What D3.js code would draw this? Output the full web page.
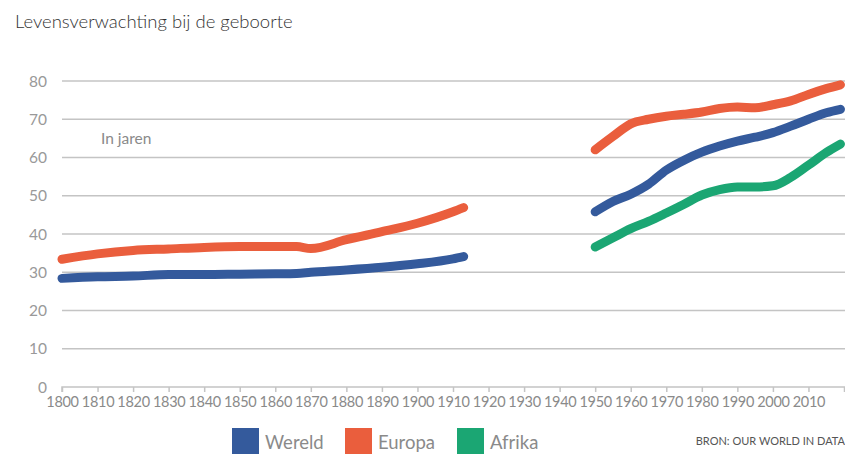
<!DOCTYPE html>
<html>
<head>
<meta charset="utf-8">
<script src="https://cdn.jsdelivr.net/npm/d3@7"></script>
<style>
  body { margin: 0; background: #fff; }
  svg { display: block; font-family: Lato, "Open Sans", sans-serif; }
</style>
</head>
<body>
<svg id="chart" width="845" height="454"></svg>
<script>
// ---- data ----
const yearsEarly = [1800,1810,1820,1830,1840,1850,1860,1866,1870,1880,1890,1900,1910,1913];
const wereldEarly = [28.4,28.8,29.0,29.4,29.4,29.5,29.6,29.7,30.0,30.6,31.3,32.2,33.5,34.1];
const europaEarly = [33.4,34.8,35.7,36.1,36.5,36.7,36.7,36.7,36.2,38.5,40.6,42.8,45.8,46.9];

const yearsLate = [1950,1955,1960,1965,1970,1975,1980,1985,1990,1995,2000,2005,2010,2015,2019];
const wereldLate = [45.8,48.5,50.4,53.0,56.7,59.3,61.4,63.0,64.3,65.3,66.5,68.2,70.0,71.7,72.6];
const europaLate = [62.0,65.5,68.8,70.0,70.8,71.3,71.9,72.8,73.2,73.0,73.8,74.8,76.5,78.0,79.0];
const afrikaLate = [36.6,39.0,41.4,43.3,45.5,47.8,50.2,51.6,52.3,52.3,52.6,54.8,58.0,61.3,63.5];

const yTicks = [0,10,20,30,40,50,60,70,80];
const xTicks = d3.range(1800, 2021, 10);
const xLabels = d3.range(1800, 2011, 10);

const seriesNames = ["Wereld","Europa","Afrika"];
const colors = {Wereld:"#345a9c", Europa:"#ea5e3d", Afrika:"#1ba673"};

// ---- layout ----
const svg = d3.select("#chart");
const x = d3.scaleLinear().domain([1800, 2020]).range([62, 844]);
const y = d3.scaleLinear().domain([0, 80]).range([387, 81]);

// title
svg.append("text").attr("x", 15).attr("y", 28)
  .attr("font-size", 18.5).attr("font-weight", 300).attr("fill", "#333")
  .text("Levensverwachting bij de geboorte");

// gridlines
svg.append("g").selectAll("line").data(yTicks.filter(d => d > 0)).join("line")
  .attr("x1", 62).attr("x2", 845)
  .attr("y1", d => y(d)).attr("y2", d => y(d))
  .attr("stroke", "#c4c4c4").attr("stroke-width", 1.5);

// y labels
svg.append("g").selectAll("text").data(yTicks).join("text")
  .attr("x", 47).attr("y", d => y(d)).attr("dy", "0.36em")
  .attr("text-anchor", "end").attr("font-size", 15.5).attr("fill", "#999")
  .text(d => d);

// x axis
const xAxis = d3.axisBottom(x).tickValues(xTicks).tickSize(5)
  .tickFormat(d => xLabels.includes(d) ? d : "");
const gx = svg.append("g").attr("transform", `translate(0,${y(0)})`).call(xAxis);
gx.select(".domain").attr("stroke", "#c4c4c4").attr("stroke-width", 1.5)
  .attr("d", `M${x(1800)},5V0H845`);
gx.selectAll(".tick line").attr("stroke", "#c4c4c4").attr("stroke-width", 1.5);
gx.selectAll(".tick text").attr("font-size", 14.5).attr("fill", "#8a8a8a")
  .attr("font-family", "Lato, sans-serif").attr("y", 8).attr("dy", "0.85em")
  .attr("letter-spacing", -0.3);

// in jaren
svg.append("text").attr("x", 101).attr("y", 144)
  .attr("font-size", 15.5).attr("fill", "#8a8a8a").text("In jaren");

// lines
const line = d3.line().x(d => x(d[0])).y(d => y(d[1])).curve(d3.curveMonotoneX);
const segs = [
  {name:"Europa", years:yearsEarly, vals:europaEarly},
  {name:"Wereld", years:yearsEarly, vals:wereldEarly},
  {name:"Afrika", years:yearsLate, vals:afrikaLate},
  {name:"Wereld", years:yearsLate, vals:wereldLate},
  {name:"Europa", years:yearsLate, vals:europaLate}
];
svg.append("g").selectAll("path").data(segs).join("path")
  .attr("d", s => line(s.years.map((yr, i) => [yr, s.vals[i]])))
  .attr("fill", "none").attr("stroke", s => colors[s.name])
  .attr("stroke-width", 9).attr("stroke-linecap", "round").attr("stroke-linejoin", "round");

// legend
const legX = [232, 345, 457];
const lg = svg.append("g").selectAll("g").data(seriesNames).join("g")
  .attr("transform", (d, i) => `translate(${legX[i]},428)`);
lg.append("rect").attr("width", 27).attr("height", 26).attr("fill", d => colors[d]);
lg.append("text").attr("x", 33).attr("y", 21).attr("font-size", 18.5).attr("fill", "#8a8a8a").text(d => d);

// source
svg.append("text").attr("x", 845).attr("y", 445).attr("text-anchor", "end")
  .attr("font-size", 11).attr("fill", "#555").text("BRON: OUR WORLD IN DATA");
</script>
</body>
</html>
